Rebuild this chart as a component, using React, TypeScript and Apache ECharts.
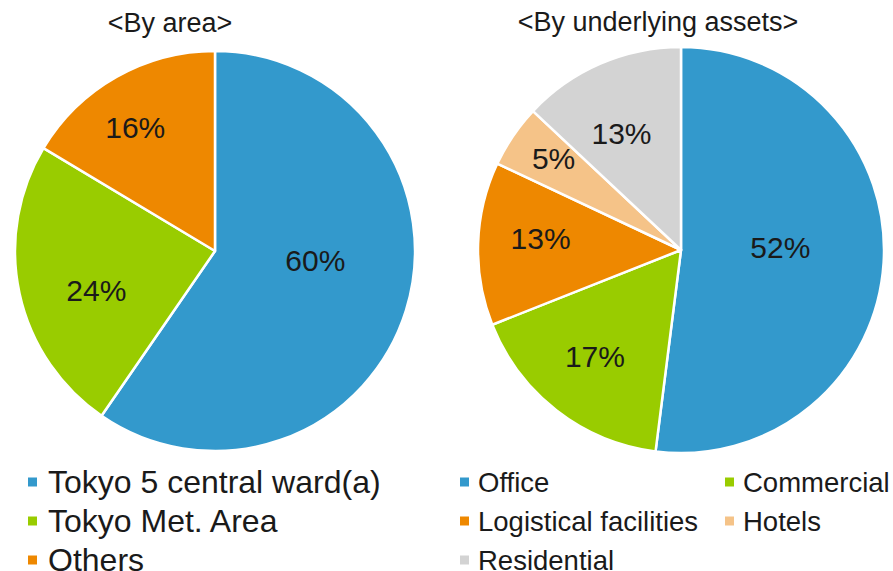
import React, { useEffect, useRef } from "react";
import * as echarts from "echarts";

const areaNames = ["Tokyo 5 central ward(a)", "Tokyo Met. Area", "Others"];
const areaValues = [59.6, 24.0, 16.4];
const assetNames = ["Office", "Commercial", "Logistical facilities", "Hotels", "Residential"];
const assetValues = [52, 17, 13, 5, 13];
const titles = ["<By area>", "<By underlying assets>"];

const areaColors = ["#3399CC", "#99CC00", "#EE8800"];
const assetColors = ["#3399CC", "#99CC00", "#EE8800", "#F5C388", "#D3D3D3"];

// label nudges (px) from the default inside position
const areaLabelShift = [[2, -21], [-18, 18], [-29, -34]];
const assetLabelShift = [[-5, -9], [-22, 24], [-36, -8], [-41, -33], [-18, -21]];

const FONT = "'Liberation Sans', Arial, sans-serif";
const TEXT = "#1a1a1a";

export default function App() {
  const ref = useRef<HTMLDivElement>(null);
  useEffect(() => {
    const chart = echarts.init(ref.current!, null, { renderer: "svg" });
    const pieBase = {
      type: "pie",
      startAngle: 90,
      clockwise: true,
      avoidLabelOverlap: false,
      emphasis: { disabled: true },
      itemStyle: { borderColor: "#ffffff", borderWidth: 2.5 },
      labelLine: { show: false },
    };
    const legendBase = {
      orient: "vertical",
      top: 462.5,
      height: 200,
      padding: 0,
      itemGap: 0,
      itemWidth: 11,
      itemHeight: 11,
      icon: "rect",
      selectedMode: false,
    };
    chart.setOption({
      animation: false,
      textStyle: { fontFamily: FONT },
      graphic: [
        {
          type: "text",
          x: 170,
          y: 23,
          style: { text: titles[0], fontSize: 27, fontFamily: FONT, fill: TEXT, textAlign: "center", textVerticalAlign: "middle" },
        },
        {
          type: "text",
          x: 658,
          y: 22,
          style: { text: titles[1], fontSize: 27, fontFamily: FONT, fill: TEXT, textAlign: "center", textVerticalAlign: "middle" },
        },
      ],
      legend: [
        {
          ...legendBase,
          left: 26,
          data: areaNames,
          textStyle: { fontSize: 32, fontFamily: FONT, color: TEXT, lineHeight: 39, padding: [0, 0, 0, 5] },
        },
        {
          ...legendBase,
          left: 458,
          data: [assetNames[0], assetNames[2], assetNames[4]],
          textStyle: { fontSize: 27.5, fontFamily: FONT, color: TEXT, lineHeight: 39, padding: [0, 0, 0, 3] },
        },
        {
          ...legendBase,
          left: 723,
          data: [assetNames[1], assetNames[3]],
          textStyle: { fontSize: 27.5, fontFamily: FONT, color: TEXT, lineHeight: 39, padding: [0, 0, 0, 3] },
        },
      ],
      series: [
        {
          ...pieBase,
          name: "area",
          center: [215, 251],
          radius: [0, 200],
          label: {
            show: true,
            position: "inside",
            fontSize: 30,
            fontFamily: FONT,
            color: TEXT,
            formatter: (p: any) => Math.round(p.value) + "%",
          },
          labelLayout: (p: any) => ({ dx: areaLabelShift[p.dataIndex][0], dy: areaLabelShift[p.dataIndex][1] }),
          data: areaNames.map((n, i) => ({ name: n, value: areaValues[i], itemStyle: { color: areaColors[i] } })),
        },
        {
          ...pieBase,
          name: "assets",
          center: [681, 250],
          radius: [0, 203],
          label: {
            show: true,
            position: "inside",
            fontSize: 30,
            fontFamily: FONT,
            color: TEXT,
            formatter: (p: any) => Math.round(p.value) + "%",
          },
          labelLayout: (p: any) => ({ dx: assetLabelShift[p.dataIndex][0], dy: assetLabelShift[p.dataIndex][1] }),
          data: assetNames.map((n, i) => ({ name: n, value: assetValues[i], itemStyle: { color: assetColors[i] } })),
        },
      ],
    });
    return () => chart.dispose();
  }, []);
  return <div ref={ref} style={{ width: 893, height: 571, position: "absolute", left: 0, top: 0 }} />;
}
